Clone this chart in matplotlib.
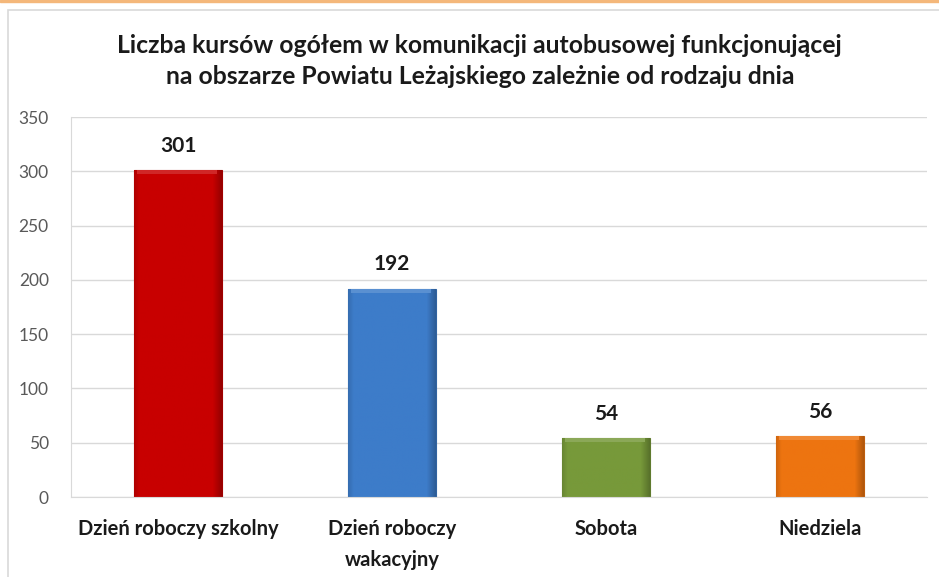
import matplotlib.pyplot as plt
import numpy as np
from matplotlib.patches import Rectangle
from matplotlib.colors import to_rgb

categories = ["Dzień roboczy szkolny", "Dzień roboczy\nwakacyjny", "Sobota", "Niedziela"]
values = [301, 192, 54, 56]
colors = ["#c80000", "#3d7cc9", "#77993a", "#ed7410"]
yticks = [0, 50, 100, 150, 200, 250, 300, 350]
title = ("Liczba kursów ogółem w komunikacji autobusowej funkcjonującej\n"
         "na obszarze Powiatu Leżajskiego zależnie od rodzaju dnia")

plt.rcParams['font.family'] = ['Lato', 'DejaVu Sans']

fig = plt.figure(figsize=(9.39, 5.77), dpi=100)
fig.patches.append(Rectangle((0, 0.996), 1, 0.004, transform=fig.transFigure,
                             color="#f4b77a", zorder=0))
fig.patches.append(Rectangle((8 / 939, -0.1), 1.1, 1 - 10 / 577 + 0.1, transform=fig.transFigure,
                             fill=False, edgecolor="#d9d9d9", lw=1.2, zorder=0))

ax = fig.add_axes([71 / 939, 1 - 497 / 577, 856 / 939, 380 / 577])
x = np.arange(len(values))
width = 0.41
bevel = 4 * 350 / 380  # ~4 px in data units

for xi, v, c in zip(x, values, colors):
    base = np.array(to_rgb(c))
    # horizontal shading to mimic bevelled bars
    t = np.linspace(0, 1, 90)
    shade = 1 - 0.12 * np.clip((0.06 - t) / 0.06, 0, 1) - 0.25 * np.clip((t - 0.9) / 0.1, 0, 1)
    img = np.clip(base[None, None, :] * shade[None, :, None], 0, 1)
    bar = ax.bar(xi, v, width=width, color=c, edgecolor=base * 0.8, lw=0.8, zorder=2)[0]
    im = ax.imshow(img, extent=(xi - width / 2, xi + width / 2, 0, v), aspect="auto",
                   origin="upper", zorder=2.5, interpolation="bilinear")
    im.set_clip_path(bar)
    light = np.clip(base + (1 - base) * 0.15, 0, 1)
    ax.add_patch(Rectangle((xi - width / 2 + 0.012, v - bevel), width - 0.035, bevel,
                           color=light, lw=0, zorder=2.6))
    ax.text(xi, v + 13, str(v), ha="center", va="bottom", fontsize=15,
            fontweight="bold", color="#1a1a1a")

ax.set_xlim(-0.5, len(values) - 0.5)
ax.set_ylim(0, 350)
ax.set_yticks(yticks)
ax.set_xticks(x)
ax.set_xticklabels(categories, fontsize=14.5, fontweight="bold", color="#1a1a1a",
                   linespacing=1.65)
ax.tick_params(axis="x", length=0, pad=16)
ax.tick_params(axis="y", length=0, pad=16, labelsize=12.5, labelcolor="#595959")
ax.grid(axis="y", color="#d9d9d9", lw=1, zorder=0)
ax.set_axisbelow(True)
for s in ["top", "right"]:
    ax.spines[s].set_visible(False)
ax.spines["left"].set_color("#d9d9d9")
ax.spines["bottom"].set_color("#d9d9d9")

fig.text(0.511, 1 - 61 / 577, title, ha="center", va="center", fontsize=17.8,
         fontweight="bold", color="#1a1a1a", linespacing=1.45)

fig.savefig("out.png", dpi=100)
